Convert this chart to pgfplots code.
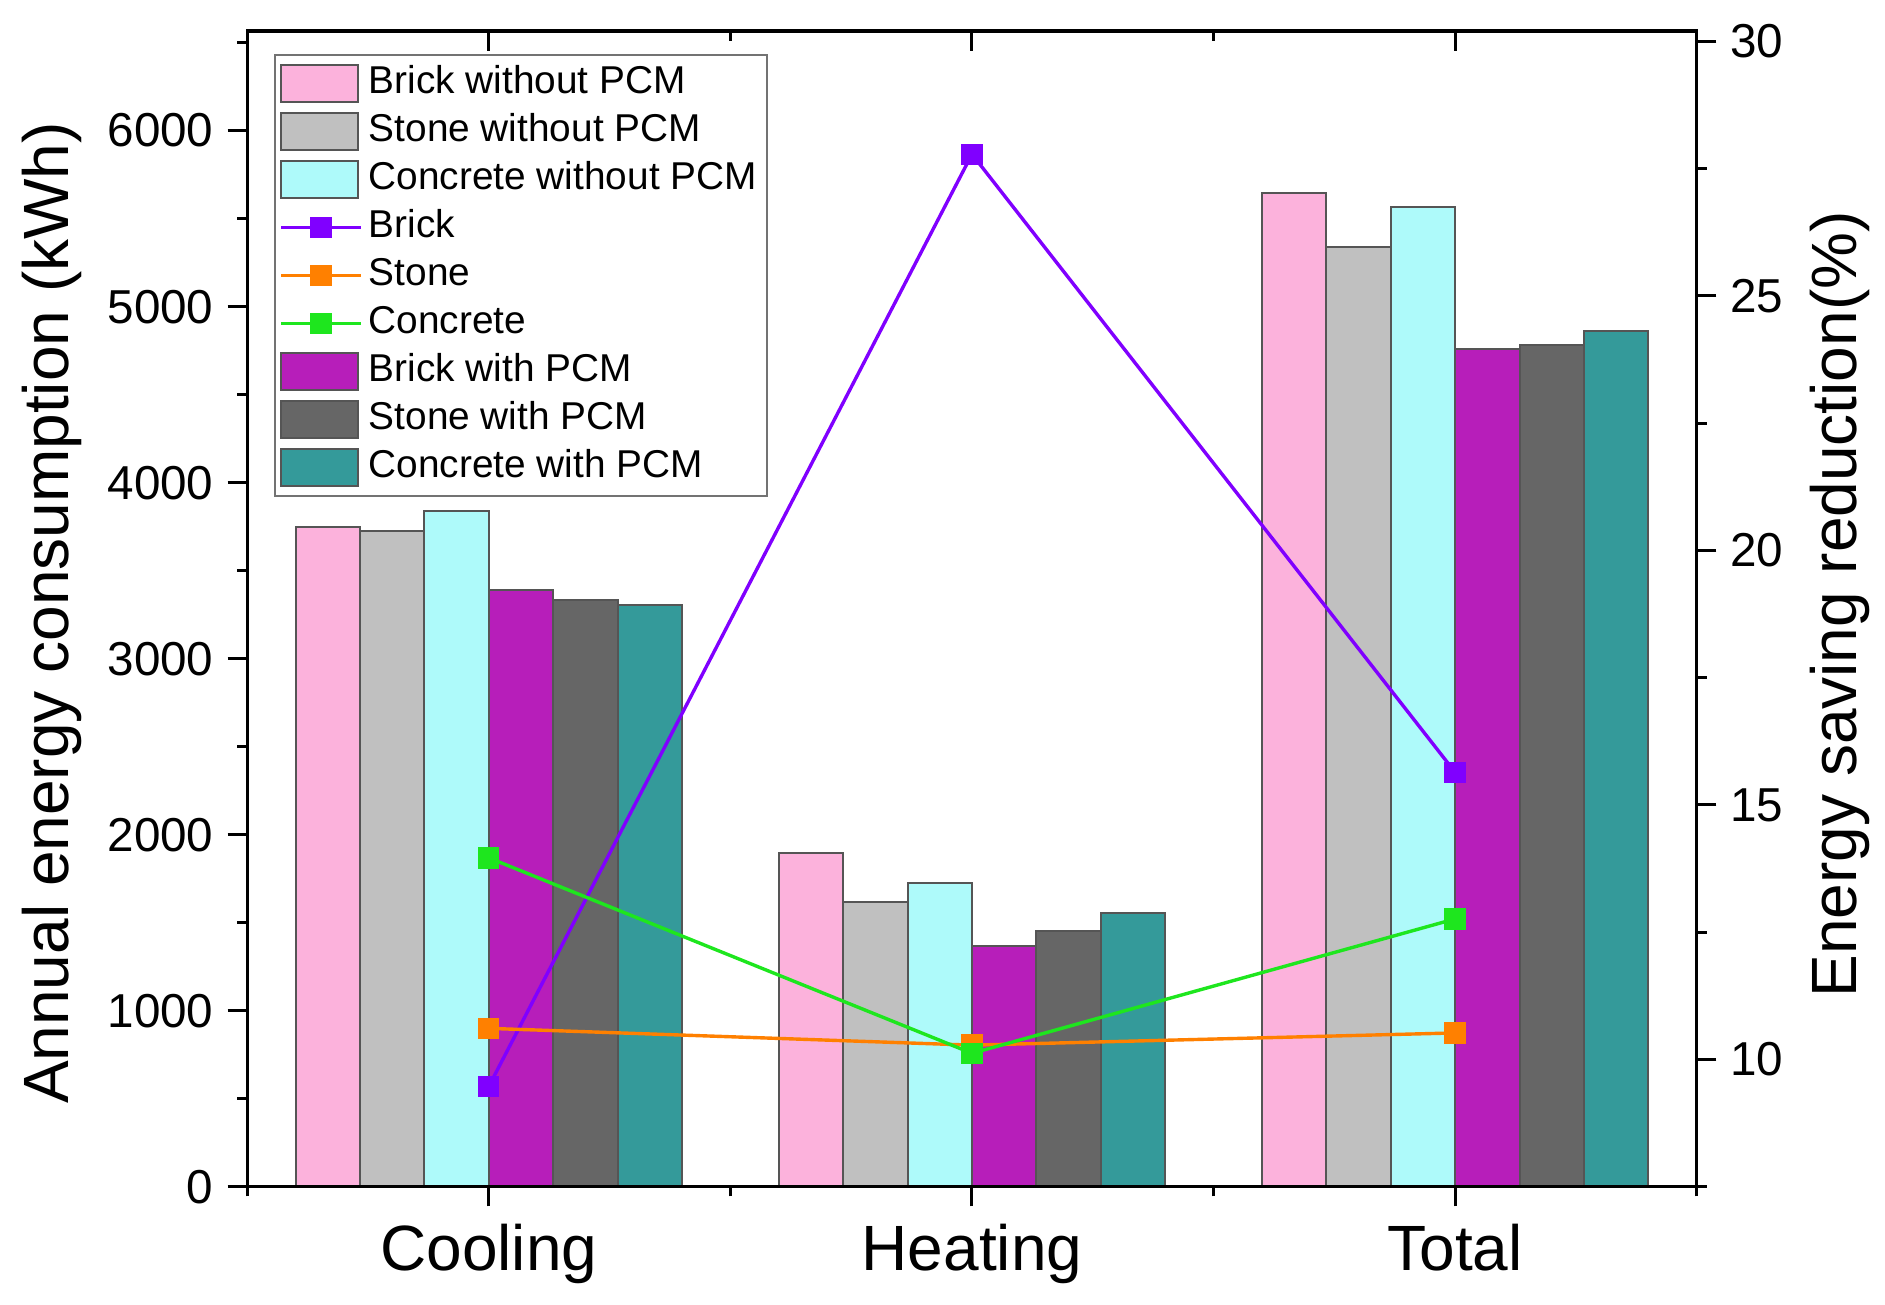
\documentclass[border=0pt]{standalone}
\usepackage{fontspec}
\setmainfont{Liberation Sans}
\usepackage{pgfplots}
\pgfplotsset{compat=1.18}
\definecolor{cPink}{HTML}{FCB2DC}
\definecolor{cLGray}{HTML}{C0C0C0}
\definecolor{cLCyan}{HTML}{AEFAFA}
\definecolor{cMag}{HTML}{B71EBA}
\definecolor{cDGray}{HTML}{666666}
\definecolor{cTeal}{HTML}{349A9A}
\definecolor{cEdge}{HTML}{555555}
\definecolor{lBrick}{HTML}{8000FF}
\definecolor{lStone}{HTML}{FF8000}
\definecolor{lConc}{HTML}{1EE61E}
\pgfplotsset{
  common/.style={
    scale only axis, width=362.35pt, height=288.9pt,
    xmin=0.5, xmax=3.5,
    axis line style={line width=0.75pt},
    every tick/.style={line width=0.75pt, black},
    major tick length=4.9pt, minor tick length=2.45pt,
    tick align=outside,
    /pgf/number format/assume math mode=true,
    /pgf/number format/1000 sep={},
    ticklabel style={font=\fontsize{11.9}{14}\selectfont},
  },
  barleg/.style={legend image code/.code={\draw[line width=0.5pt, ##1] (0pt,-4.55pt) rectangle (19.3pt,4.55pt);}},
  lineleg/.style={legend image code/.code={\draw[mark repeat=2, mark phase=2, ##1] plot coordinates {(0pt,0pt) (10pt,0pt) (20pt,0pt)};}},
  mybar/.style={ybar, bar width=0.13333, draw=cEdge, line width=0.5pt},
}
\begin{document}
\begin{tikzpicture}
\path[use as bounding box] (-61.8pt,-29.575pt) rectangle (409.425pt,296.65pt);
% ---- left axis: bars ----
\begin{axis}[common,
  ymin=0, ymax=6566,
  ytick={0,1000,...,6000}, minor ytick={500,1500,...,6500},
  xtick={1,2,3}, xticklabels={Cooling,Heating,Total},
  minor xtick={0.5,1.5,2.5,3.5},
  xtick pos=left, ytick pos=left,
  scaled y ticks=false,
  xticklabel style={font=\fontsize{16}{19}\selectfont, anchor=base, yshift=-16pt},
  every axis y label/.style={at={(axis description cs:-0.1234,0.4964)}, anchor=base, rotate=90, font=\fontsize{16}{19}\selectfont},
  ylabel={Annual energy consumption (kWh)},
]
\addplot[mybar, fill=cPink, bar shift=-0.33333] coordinates {(1,3750) (2,1895) (3,5645)};
\addplot[mybar, fill=cLGray, bar shift=-0.2] coordinates {(1,3725) (2,1616) (3,5338)};
\addplot[mybar, fill=cLCyan, bar shift=-0.066667] coordinates {(1,3840) (2,1725) (3,5564)};
\addplot[mybar, fill=cMag, bar shift=0.066667] coordinates {(1,3392) (2,1370) (3,4760)};
\addplot[mybar, fill=cDGray, bar shift=0.2] coordinates {(1,3332) (2,1452) (3,4780)};
\addplot[mybar, fill=cTeal, bar shift=0.33333] coordinates {(1,3306) (2,1554) (3,4860)};
\end{axis}
% ---- top ticks (inside) ----
\begin{axis}[common,
  ymin=0, ymax=1, hide y axis,
  xtick={1,2,3}, minor xtick={0.5,1.5,2.5,3.5},
  xticklabels={}, xtick pos=right, tick align=inside,
]
\end{axis}
% ---- right axis: lines ----
\begin{axis}[common,
  ymin=7.5, ymax=30.2,
  hide x axis,
  ytick={10,15,20,25,30}, minor ytick={7.5,12.5,17.5,22.5,27.5},
  ytick pos=right, yticklabel pos=right,
  every axis y label/.style={at={(axis description cs:1.110,0.504)}, anchor=base, rotate=90, font=\fontsize{16}{19}\selectfont},
  ylabel={Energy saving reduction(\%)},
  legend style={at={(axis description cs:0.0182,0.980)}, anchor=north west,
    draw=black!55, line width=0.5pt, fill=white,
    inner xsep=1.2pt, inner ysep=1.1pt,
    font=\fontsize{9.7}{11}\selectfont,
    row sep=0pt, column sep=0.3pt,
    nodes={inner xsep=1.2pt, inner ysep=1.25pt, text height=7.2pt, text depth=2.3pt}},
  legend cell align=left,
]
\addlegendimage{barleg, fill=cPink, draw=cEdge}
\addlegendentry{Brick without PCM}
\addlegendimage{barleg, fill=cLGray, draw=cEdge}
\addlegendentry{Stone without PCM}
\addlegendimage{barleg, fill=cLCyan, draw=cEdge}
\addlegendentry{Concrete without PCM}
\addplot[lineleg, color=lBrick, line width=0.85pt, mark=square*, mark size=2.25pt, mark options={solid}] coordinates {(1,9.47) (2,27.78) (3,15.64)};
\addlegendentry{Brick}
\addplot[lineleg, color=lStone, line width=0.85pt, mark=square*, mark size=2.25pt, mark options={solid}] coordinates {(1,10.61) (2,10.28) (3,10.52)};
\addlegendentry{Stone}
\addplot[lineleg, color=lConc, line width=0.85pt, mark=square*, mark size=2.25pt, mark options={solid}] coordinates {(1,13.96) (2,10.12) (3,12.76)};
\addlegendentry{Concrete}
\addlegendimage{barleg, fill=cMag, draw=cEdge}
\addlegendentry{Brick with PCM}
\addlegendimage{barleg, fill=cDGray, draw=cEdge}
\addlegendentry{Stone with PCM}
\addlegendimage{barleg, fill=cTeal, draw=cEdge}
\addlegendentry{Concrete with PCM}
\end{axis}
\end{tikzpicture}
\end{document}
